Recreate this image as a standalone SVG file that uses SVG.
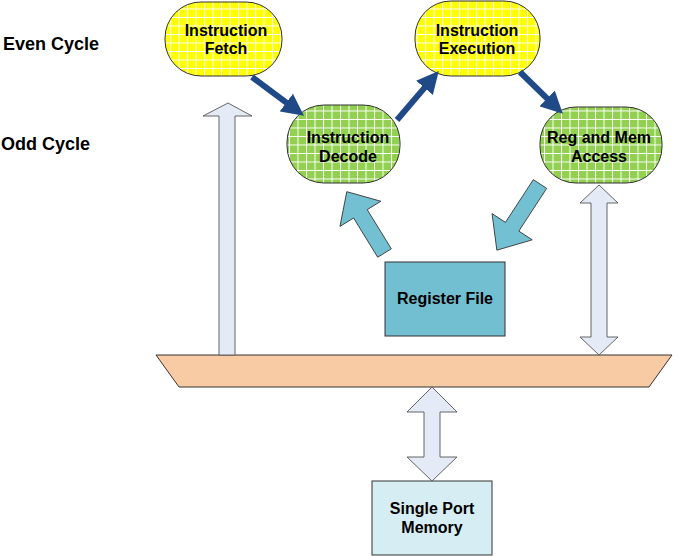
<svg xmlns="http://www.w3.org/2000/svg" width="684" height="556" viewBox="0 0 684 556">
<style>
text{font-family:"Liberation Sans",Arial,sans-serif;font-weight:bold;fill:#000;}
.nt{font-size:16px;text-anchor:middle;}
.lbl{font-size:18px;}
.node{stroke:#333;stroke-width:1;}
.blk{fill:#73C0D3;stroke:#333;stroke-width:0.8;}
.lt{fill:#E4EBF6;stroke:#555;stroke-width:0.9;}
.dk{stroke:#1F4A87;stroke-width:6;fill:none;}
</style>
<defs>
<pattern id="gy" patternUnits="userSpaceOnUse" width="8.5" height="8.5">
<rect width="8.5" height="8.5" fill="#FFFF00"/>
<path d="M0,0.5H8.5M0.5,0V8.5" stroke="#fff" stroke-width="1"/>
</pattern>
<pattern id="gg" patternUnits="userSpaceOnUse" width="8.5" height="8.5">
<rect width="8.5" height="8.5" fill="#92D050"/>
<path d="M0,0.5H8.5M0.5,0V8.5" stroke="#fff" stroke-width="1"/>
</pattern>
<marker id="ah" markerUnits="userSpaceOnUse" markerWidth="22" markerHeight="22" viewBox="0 0 20 20" refX="8" refY="10" orient="auto">
<path d="M0,0L20,10L0,20z" fill="#1F4A87"/>
</marker>
</defs>

<text class="lbl" x="3" y="50">Even Cycle</text>
<text class="lbl" x="1" y="150">Odd Cycle</text>

<g id="bus"><polygon points="156,355 672,355 649,387 179,387" fill="#F9CBA5" stroke="#333" stroke-width="1"/></g>

<g id="fetch"><rect class="node" x="165" y="2" width="117" height="74" rx="36" fill="url(#gy)"/>
<text class="nt" x="226" y="36">Instruction</text><text class="nt" x="226" y="54">Fetch</text></g>
<g id="decode"><rect class="node" x="287" y="105" width="113" height="78" rx="37" fill="url(#gg)"/>
<text class="nt" x="348" y="143">Instruction</text><text class="nt" x="348" y="162">Decode</text></g>
<g id="execution"><rect class="node" x="415" y="1" width="125" height="75" rx="36" fill="url(#gy)"/>
<text class="nt" x="477" y="36">Instruction</text><text class="nt" x="477" y="54">Execution</text></g>
<g id="regmem"><rect class="node" x="540" y="107" width="122" height="76" rx="36" fill="url(#gg)"/>
<text class="nt" x="599" y="143">Reg and Mem</text><text class="nt" x="599" y="162">Access</text></g>
<g id="regfile"><rect x="385" y="262" width="120" height="74" fill="#72BFD1" stroke="#333" stroke-width="1"/>
<text class="nt" x="445" y="304">Register File</text></g>
<g id="memory"><rect x="372" y="481" width="120" height="74" fill="#D6EDF3" stroke="#333" stroke-width="1"/>
<text class="nt" x="432" y="514">Single Port</text><text class="nt" x="432" y="533">Memory</text></g>

<g id="connectors">
<line class="dk" x1="252" y1="77" x2="293.4" y2="107.8" marker-end="url(#ah)"/>
<line class="dk" x1="397" y1="120" x2="430.2" y2="81.1" marker-end="url(#ah)"/>
<line class="dk" x1="520" y1="72" x2="553.4" y2="104.6" marker-end="url(#ah)"/>
<polygon class="blk" transform="translate(384.5,253) rotate(-121.6)" points="0,-8 46,-8 46,-24 72,0 46,24 46,8 0,8"/>
<polygon class="blk" transform="translate(540,184) rotate(123.1)" points="0,-8 51,-8 51,-24 79,0 51,24 51,8 0,8"/>
<polygon class="lt" points="219,355 219,116 203,116 228,103 252,116 235,116 235,355"/>
<polygon class="lt" points="599,185 618,203 607,203 607,337 618,337 599,355 580,337 591,337 591,203 580,203"/>
<polygon class="lt" points="432,387 457,412 440,412 440,457 457,457 432,481 407,457 424,457 424,412 407,412"/>
</g>
</svg>
